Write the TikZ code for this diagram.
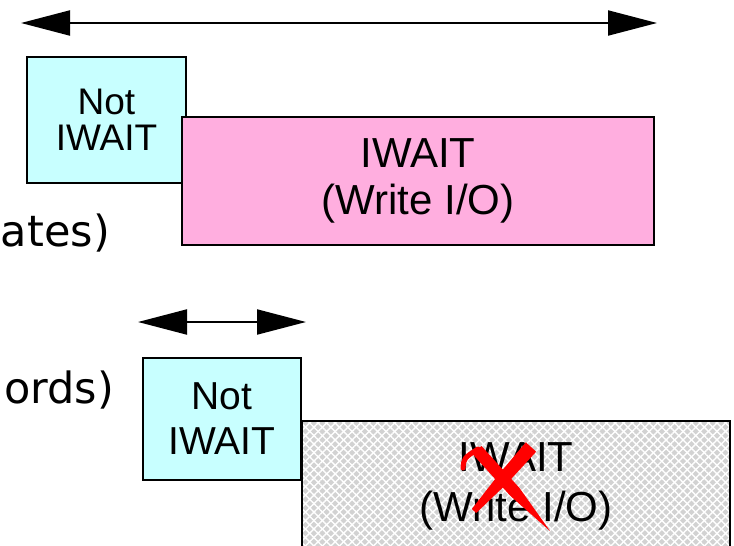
\documentclass[tikz,border=0pt]{standalone}
\usepackage{fontspec}
\setmainfont{Liberation Sans}
\newfontfamily\handFont{DejaVu Sans}
\usepackage{tikz}
\usetikzlibrary{arrows.meta, patterns.meta}
\definecolor{notWaitBg}{HTML}{C8FFFF}
\definecolor{ioWaitBg}{HTML}{FFAEDF}
\definecolor{hatchGray}{HTML}{D2D2D2}
\definecolor{crossRed}{HTML}{FF0000}

\tikzset{
  stateBox/.style={draw=black, line width=2.4pt, rectangle, align=center, inner sep=0pt},
  spanArrow/.style={line width=2pt, {Triangle[length=49pt, width=25pt]}-{Triangle[length=49pt, width=25pt]}},
  handText/.style={anchor=base east, inner sep=0pt, font=\handFont\fontsize{43}{43}\selectfont}
}

\begin{document}
\begin{tikzpicture}[x=1pt, y=-1pt]
    \useasboundingbox (0,0) rectangle (734,546);
    \clip (0,0) rectangle (734,546);

    % upper row
    \coordinate (spanTopL) at (21,23);
    \coordinate (spanTopR) at (657,23);
    \draw[spanArrow] (spanTopL) -- (spanTopR);

    \node[stateBox, fill=notWaitBg, minimum width=159pt, minimum height=126pt,
          font=\fontsize{37}{36}\selectfont] (notWaitA) at (106.5,120) {Not\\IWAIT};
    \node[stateBox, fill=ioWaitBg, minimum width=472pt, minimum height=128pt,
          font=\fontsize{42}{47}\selectfont] (ioWaitA) at (418,181) {IWAIT\\(Write I/O)};
    \node[handText] (labUpdates) at (110,246) {ates)};

    % lower row
    \coordinate (spanLowL) at (138,322);
    \coordinate (spanLowR) at (306,322);
    \draw[spanArrow] (spanLowL) -- (spanLowR);

    \node[stateBox, fill=notWaitBg, minimum width=158pt, minimum height=122pt,
          font=\fontsize{39}{45}\selectfont] (notWaitB) at (222,419) {Not\\IWAIT};
    \node[stateBox, fill=hatchGray, minimum width=428pt, minimum height=130pt,
          font=\fontsize{42}{50}\selectfont,
          postaction={pattern={Lines[angle=45, distance=6pt, line width=1.4pt]}, pattern color=white},
          postaction={pattern={Lines[angle=-45, distance=6pt, line width=1.4pt]}, pattern color=white},
          postaction={draw=black, line width=2.4pt}] (ioWaitB) at (516,486) {IWAIT\\(Write I/O)};
    \node[handText] (labRecords) at (114,403) {ords)};

    % red cross over the lower IWAIT
    \fill[crossRed, line join=round] (536.2,451.7) -- (506.5,484) -- (476.2,513)
        -- (471.8,509) -- (497.5,476) -- (525.8,442.3) -- cycle;
    \fill[crossRed, line join=round] (472.6,454.1) -- (510.6,496.1) -- (550,531)
        -- (519.4,487.9) -- (481.4,445.9) -- cycle;
    \draw[crossRed, line width=5pt, line cap=round] (463,468) .. controls (464,458) .. (478,449);
\end{tikzpicture}
\end{document}
